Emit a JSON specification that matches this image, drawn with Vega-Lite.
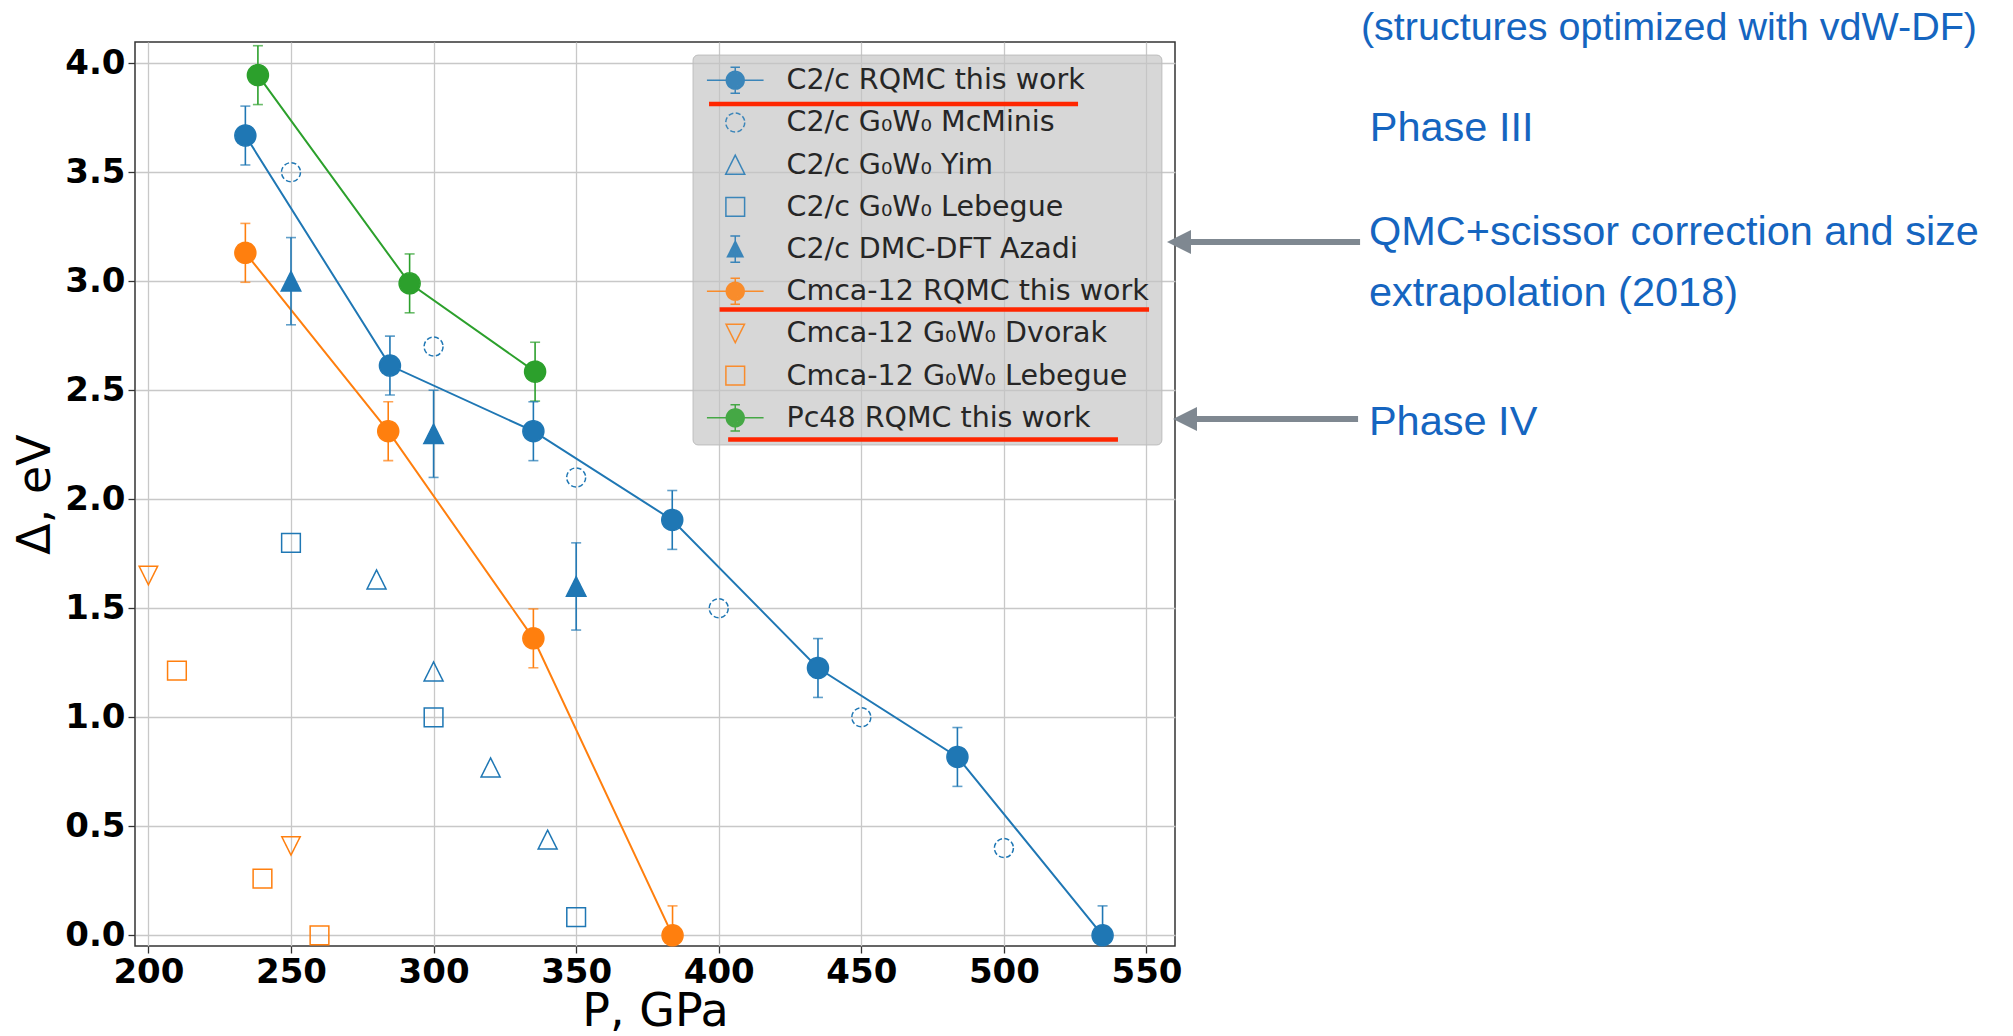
{
  "$schema": "https://vega.github.io/schema/vega-lite/v6.json",
  "width": 1040,
  "height": 904,
  "autosize": {"type": "none"},
  "padding": {"left": 135, "top": 42, "right": 838, "bottom": 90},
  "background": "#ffffff",
  "datasets": {
    "pts": [
      {"series": "C2/c RQMC this work", "structure": "C2/c", "method": "RQMC", "P": 234, "gap": 3.668, "err": 0.135},
      {"series": "C2/c RQMC this work", "structure": "C2/c", "method": "RQMC", "P": 284.7, "gap": 2.613, "err": 0.135},
      {"series": "C2/c RQMC this work", "structure": "C2/c", "method": "RQMC", "P": 335, "gap": 2.312, "err": 0.135},
      {"series": "C2/c RQMC this work", "structure": "C2/c", "method": "RQMC", "P": 383.7, "gap": 1.905, "err": 0.135},
      {"series": "C2/c RQMC this work", "structure": "C2/c", "method": "RQMC", "P": 434.8, "gap": 1.226, "err": 0.135},
      {"series": "C2/c RQMC this work", "structure": "C2/c", "method": "RQMC", "P": 483.7, "gap": 0.818, "err": 0.135},
      {"series": "C2/c RQMC this work", "structure": "C2/c", "method": "RQMC", "P": 534.6, "gap": 0.0, "err": 0.135},
      {"series": "C2/c G₀W₀ McMinis", "structure": "C2/c", "method": "G0W0", "P": 250, "gap": 3.5},
      {"series": "C2/c G₀W₀ McMinis", "structure": "C2/c", "method": "G0W0", "P": 300, "gap": 2.7},
      {"series": "C2/c G₀W₀ McMinis", "structure": "C2/c", "method": "G0W0", "P": 350, "gap": 2.1},
      {"series": "C2/c G₀W₀ McMinis", "structure": "C2/c", "method": "G0W0", "P": 400, "gap": 1.5},
      {"series": "C2/c G₀W₀ McMinis", "structure": "C2/c", "method": "G0W0", "P": 450, "gap": 1.0},
      {"series": "C2/c G₀W₀ McMinis", "structure": "C2/c", "method": "G0W0", "P": 500, "gap": 0.4},
      {"series": "C2/c G₀W₀ Yim", "structure": "C2/c", "method": "G0W0", "P": 280, "gap": 1.632},
      {"series": "C2/c G₀W₀ Yim", "structure": "C2/c", "method": "G0W0", "P": 300, "gap": 1.21},
      {"series": "C2/c G₀W₀ Yim", "structure": "C2/c", "method": "G0W0", "P": 320, "gap": 0.77},
      {"series": "C2/c G₀W₀ Yim", "structure": "C2/c", "method": "G0W0", "P": 340, "gap": 0.439},
      {"series": "C2/c G₀W₀ Lebegue", "structure": "C2/c", "method": "G0W0", "P": 250, "gap": 1.8},
      {"series": "C2/c G₀W₀ Lebegue", "structure": "C2/c", "method": "G0W0", "P": 300, "gap": 1.0},
      {"series": "C2/c G₀W₀ Lebegue", "structure": "C2/c", "method": "G0W0", "P": 350, "gap": 0.083},
      {"series": "C2/c DMC-DFT Azadi", "structure": "C2/c", "method": "DMC-DFT", "P": 250, "gap": 3.0, "err": 0.2},
      {"series": "C2/c DMC-DFT Azadi", "structure": "C2/c", "method": "DMC-DFT", "P": 300, "gap": 2.3, "err": 0.2},
      {"series": "C2/c DMC-DFT Azadi", "structure": "C2/c", "method": "DMC-DFT", "P": 350, "gap": 1.6, "err": 0.2},
      {"series": "Cmca-12 RQMC this work", "structure": "Cmca-12", "method": "RQMC", "P": 234, "gap": 3.13, "err": 0.135},
      {"series": "Cmca-12 RQMC this work", "structure": "Cmca-12", "method": "RQMC", "P": 284.1, "gap": 2.312, "err": 0.135},
      {"series": "Cmca-12 RQMC this work", "structure": "Cmca-12", "method": "RQMC", "P": 335, "gap": 1.362, "err": 0.135},
      {"series": "Cmca-12 RQMC this work", "structure": "Cmca-12", "method": "RQMC", "P": 383.8, "gap": 0.0, "err": 0.135},
      {"series": "Cmca-12 G₀W₀ Dvorak", "structure": "Cmca-12", "method": "G0W0", "P": 200, "gap": 1.65},
      {"series": "Cmca-12 G₀W₀ Dvorak", "structure": "Cmca-12", "method": "G0W0", "P": 250, "gap": 0.41},
      {"series": "Cmca-12 G₀W₀ Lebegue", "structure": "Cmca-12", "method": "G0W0", "P": 210, "gap": 1.214},
      {"series": "Cmca-12 G₀W₀ Lebegue", "structure": "Cmca-12", "method": "G0W0", "P": 240, "gap": 0.26},
      {"series": "Cmca-12 G₀W₀ Lebegue", "structure": "Cmca-12", "method": "G0W0", "P": 260, "gap": 0.0},
      {"series": "Pc48 RQMC this work", "structure": "Pc48", "method": "RQMC", "P": 238.4, "gap": 3.945, "err": 0.135},
      {"series": "Pc48 RQMC this work", "structure": "Pc48", "method": "RQMC", "P": 291.6, "gap": 2.99, "err": 0.135},
      {"series": "Pc48 RQMC this work", "structure": "Pc48", "method": "RQMC", "P": 335.6, "gap": 2.585, "err": 0.135}
    ],
    "legendbox": [
      {"P": 391.0, "P2": 555.4, "gap": 4.037, "gap2": 2.249}
    ],
    "underlines": [
      {"row": "C2/c RQMC this work", "P": 396.6, "P2": 526.0, "gap": 3.813},
      {"row": "Cmca-12 RQMC this work", "P": 400.3, "P2": 550.9, "gap": 2.870},
      {"row": "Pc48 RQMC this work", "P": 403.3, "P2": 540.0, "gap": 2.274}
    ],
    "arrows": [
      {"target": "C2/c DMC-DFT Azadi", "P": 561.4, "P2": 624.9, "gap": 3.18},
      {"target": "Pc48 RQMC this work", "P": 563.5, "P2": 624.2, "gap": 2.368}
    ],
    "header": [
      {"note": "(structures optimized with vdW-DF)", "P": 625.2, "gap": 4.161}
    ],
    "notes": [
      {"note": "Phase III", "P": 628.3, "gap": 3.698},
      {"note": "QMC+scissor correction and size", "P": 628.0, "gap": 3.221},
      {"note": "extrapolation (2018)", "P": 628.0, "gap": 2.941},
      {"note": "Phase IV", "P": 628.0, "gap": 2.35}
    ]
  },
  "config": {
    "view": {"stroke": "#333333", "strokeWidth": 1.5},
    "axis": {
      "grid": true,
      "gridColor": "#c8c8c8",
      "gridWidth": 1.3,
      "domain": false,
      "tickColor": "#333333",
      "tickSize": 7,
      "tickWidth": 1.3,
      "labelFont": "DejaVu Sans",
      "labelFontSize": 34,
      "labelFontWeight": "bold",
      "labelColor": "#000000",
      "labelFlush": false,
      "labelOverlap": false,
      "titleFont": "DejaVu Sans",
      "titleFontSize": 46,
      "titleFontWeight": "normal",
      "titleColor": "#000000"
    }
  },
  "layer": [
    {
      "data": {"name": "legendbox"},
      "mark": {"type": "rect", "fill": "#c4c4c4", "fillOpacity": 0.68, "stroke": "#bdbdbd", "strokeWidth": 1, "cornerRadius": 5},
      "encoding": {
        "x": {"field": "P", "type": "quantitative", "title": "P, GPa", "scale": {"domain": [195.3, 560], "nice": false, "zero": false}},
        "x2": {"field": "P2"},
        "y": {"field": "gap", "type": "quantitative", "title": "Δ, eV", "scale": {"domain": [-0.049, 4.097], "nice": false, "zero": false}},
        "y2": {"field": "gap2"}
      }
    },
    {
      "data": {"name": "pts"},
      "transform": [{"filter": "datum.method === 'RQMC'"}],
      "mark": {"type": "line", "strokeWidth": 2},
      "encoding": {
        "x": {"field": "P", "type": "quantitative", "title": "P, GPa", "scale": {"domain": [195.3, 560], "nice": false, "zero": false}},
        "y": {"field": "gap", "type": "quantitative", "title": "Δ, eV", "scale": {"domain": [-0.049, 4.097], "nice": false, "zero": false}},
        "color": {"field": "structure", "type": "nominal", "scale": {"domain": ["C2/c", "Cmca-12", "Pc48"], "range": ["#1f77b4", "#ff7f0e", "#2ca02c"]}, "legend": null}
      }
    },
    {
      "data": {"name": "pts"},
      "transform": [{"filter": "datum.err != null"}],
      "mark": {"type": "errorbar", "ticks": true, "size": 10, "thickness": 1.6, "clip": true},
      "encoding": {
        "x": {"field": "P", "type": "quantitative", "title": "P, GPa", "scale": {"domain": [195.3, 560], "nice": false, "zero": false}},
        "y": {"field": "gap", "type": "quantitative", "title": "Δ, eV", "scale": {"domain": [-0.049, 4.097], "nice": false, "zero": false}},
        "yError": {"field": "err"},
        "color": {"field": "structure", "type": "nominal", "scale": {"domain": ["C2/c", "Cmca-12", "Pc48"], "range": ["#1f77b4", "#ff7f0e", "#2ca02c"]}, "legend": null}
      }
    },
    {
      "data": {"name": "pts"},
      "encoding": {
        "x": {"field": "P", "type": "quantitative", "title": "P, GPa", "scale": {"domain": [195.3, 560], "nice": false, "zero": false},
              "axis": {"values": [200, 250, 300, 350, 400, 450, 500, 550], "format": "d", "labelPadding": 2, "titleY": 79, "titleBaseline": "alphabetic"}},
        "y": {"field": "gap", "type": "quantitative", "title": "Δ, eV", "scale": {"domain": [-0.049, 4.097], "nice": false, "zero": false},
              "axis": {"values": [0, 0.5, 1, 1.5, 2, 2.5, 3, 3.5, 4], "format": ".1f", "labelPadding": 3, "titleX": -86, "titleY": 452, "titleAngle": 270, "titleBaseline": "alphabetic", "titleAlign": "center"}},
        "fill": {
          "field": "series", "type": "nominal",
          "scale": {
            "domain": ["C2/c RQMC this work", "C2/c G₀W₀ McMinis", "C2/c G₀W₀ Yim", "C2/c G₀W₀ Lebegue", "C2/c DMC-DFT Azadi", "Cmca-12 RQMC this work", "Cmca-12 G₀W₀ Dvorak", "Cmca-12 G₀W₀ Lebegue", "Pc48 RQMC this work"],
            "range": ["#1f77b4", "transparent", "transparent", "transparent", "#1f77b4", "#ff7f0e", "transparent", "transparent", "#2ca02c"]
          },
          "legend": {"title": null}
        },
        "stroke": {
          "field": "series", "type": "nominal",
          "scale": {
            "domain": ["C2/c RQMC this work", "C2/c G₀W₀ McMinis", "C2/c G₀W₀ Yim", "C2/c G₀W₀ Lebegue", "C2/c DMC-DFT Azadi", "Cmca-12 RQMC this work", "Cmca-12 G₀W₀ Dvorak", "Cmca-12 G₀W₀ Lebegue", "Pc48 RQMC this work"],
            "range": ["#1f77b4", "#1f77b4", "#1f77b4", "#1f77b4", "#1f77b4", "#ff7f0e", "#ff7f0e", "#ff7f0e", "#2ca02c"]
          },
          "legend": {"title": null}
        },
        "strokeDash": {
          "field": "series", "type": "nominal",
          "scale": {
            "domain": ["C2/c RQMC this work", "C2/c G₀W₀ McMinis", "C2/c G₀W₀ Yim", "C2/c G₀W₀ Lebegue", "C2/c DMC-DFT Azadi", "Cmca-12 RQMC this work", "Cmca-12 G₀W₀ Dvorak", "Cmca-12 G₀W₀ Lebegue", "Pc48 RQMC this work"],
            "range": [[1, 0], [5, 2.5], [1, 0], [1, 0], [1, 0], [1, 0], [1, 0], [1, 0], [1, 0]]
          },
          "legend": {"title": null}
        },
        "size": {
          "field": "series", "type": "nominal",
          "scale": {
            "type": "ordinal",
            "domain": ["C2/c RQMC this work", "C2/c G₀W₀ McMinis", "C2/c G₀W₀ Yim", "C2/c G₀W₀ Lebegue", "C2/c DMC-DFT Azadi", "Cmca-12 RQMC this work", "Cmca-12 G₀W₀ Dvorak", "Cmca-12 G₀W₀ Lebegue", "Pc48 RQMC this work"],
            "range": [440, 361, 361, 350, 380, 440, 340, 350, 440]
          },
          "legend": {"title": null}
        }
      },
      "layer": [
        {
          "mark": {"type": "point", "opacity": 0},
          "encoding": {
            "shape": {
              "field": "series", "type": "nominal",
              "scale": {
                "domain": ["C2/c RQMC this work", "C2/c G₀W₀ McMinis", "C2/c G₀W₀ Yim", "C2/c G₀W₀ Lebegue", "C2/c DMC-DFT Azadi", "Cmca-12 RQMC this work", "Cmca-12 G₀W₀ Dvorak", "Cmca-12 G₀W₀ Lebegue", "Pc48 RQMC this work"],
                "range": [
                  "M-2.7,0L2.7,0M0,-1.25L0,1.25M-0.45,-1.25L0.45,-1.25M-0.45,1.25L0.45,1.25M0.85,0A0.85,0.85,0,1,1,-0.85,0A0.85,0.85,0,1,1,0.85,0ZM0.72,0A0.72,0.72,0,1,1,-0.72,0A0.72,0.72,0,1,1,0.72,0ZM0.59,0A0.59,0.59,0,1,1,-0.59,0A0.59,0.59,0,1,1,0.59,0ZM0.46,0A0.46,0.46,0,1,1,-0.46,0A0.46,0.46,0,1,1,0.46,0ZM0.33,0A0.33,0.33,0,1,1,-0.33,0A0.33,0.33,0,1,1,0.33,0ZM0.2,0A0.2,0.2,0,1,1,-0.2,0A0.2,0.2,0,1,1,0.2,0ZM0.08,0A0.08,0.08,0,1,1,-0.08,0A0.08,0.08,0,1,1,0.08,0Z",
                  "circle",
                  "M0,-1L-1,1L1,1Z",
                  "square",
                  "M0,-0.8L-0.8,0.8L0.8,0.8ZM-0.075,-0.65L0.075,-0.65M-0.145,-0.51L0.145,-0.51M-0.215,-0.37L0.215,-0.37M-0.285,-0.23L0.285,-0.23M-0.355,-0.09L0.355,-0.09M-0.425,0.05L0.425,0.05M-0.495,0.19L0.495,0.19M-0.565,0.33L0.565,0.33M-0.635,0.47L0.635,0.47M-0.705,0.61L0.705,0.61M-0.775,0.75L0.775,0.75M0,-1.35L0,1.35M-0.5,-1.35L0.5,-1.35M-0.5,1.35L0.5,1.35",
                  "M-2.7,0L2.7,0M0,-1.25L0,1.25M-0.45,-1.25L0.45,-1.25M-0.45,1.25L0.45,1.25M0.85,0A0.85,0.85,0,1,1,-0.85,0A0.85,0.85,0,1,1,0.85,0ZM0.72,0A0.72,0.72,0,1,1,-0.72,0A0.72,0.72,0,1,1,0.72,0ZM0.59,0A0.59,0.59,0,1,1,-0.59,0A0.59,0.59,0,1,1,0.59,0ZM0.46,0A0.46,0.46,0,1,1,-0.46,0A0.46,0.46,0,1,1,0.46,0ZM0.33,0A0.33,0.33,0,1,1,-0.33,0A0.33,0.33,0,1,1,0.33,0ZM0.2,0A0.2,0.2,0,1,1,-0.2,0A0.2,0.2,0,1,1,0.2,0ZM0.08,0A0.08,0.08,0,1,1,-0.08,0A0.08,0.08,0,1,1,0.08,0Z",
                  "M0,1L-1,-1L1,-1Z",
                  "square",
                  "M-2.7,0L2.7,0M0,-1.25L0,1.25M-0.45,-1.25L0.45,-1.25M-0.45,1.25L0.45,1.25M0.85,0A0.85,0.85,0,1,1,-0.85,0A0.85,0.85,0,1,1,0.85,0ZM0.72,0A0.72,0.72,0,1,1,-0.72,0A0.72,0.72,0,1,1,0.72,0ZM0.59,0A0.59,0.59,0,1,1,-0.59,0A0.59,0.59,0,1,1,0.59,0ZM0.46,0A0.46,0.46,0,1,1,-0.46,0A0.46,0.46,0,1,1,0.46,0ZM0.33,0A0.33,0.33,0,1,1,-0.33,0A0.33,0.33,0,1,1,0.33,0ZM0.2,0A0.2,0.2,0,1,1,-0.2,0A0.2,0.2,0,1,1,0.2,0ZM0.08,0A0.08,0.08,0,1,1,-0.08,0A0.08,0.08,0,1,1,0.08,0Z"
                ]
              },
              "legend": {
                "title": null,
                "orient": "none",
                "legendX": 558,
                "legendY": 12,
                "padding": 12,
                "gridAlign": "all",
                "rowPadding": 9.2,
                "labelFont": "DejaVu Sans",
                "labelFontSize": 28.5,
                "labelColor": "#262626",
                "labelLimit": 1000,
                "labelOffset": 37,
                "symbolOffset": 16,
                "symbolOpacity": 0.85,
                "symbolStrokeWidth": 1.5
              }
            }
          }
        },
        {
          "transform": [{"filter": {"field": "series", "oneOf": ["C2/c RQMC this work", "C2/c G₀W₀ McMinis", "Cmca-12 RQMC this work", "Pc48 RQMC this work"]}}],
          "mark": {"type": "point", "shape": "circle", "opacity": 1, "strokeWidth": 1.5}
        },
        {
          "transform": [{"filter": {"field": "series", "oneOf": ["C2/c G₀W₀ Yim", "C2/c DMC-DFT Azadi"]}}],
          "mark": {"type": "point", "shape": "M0,-1L-1,1L1,1Z", "opacity": 1, "strokeWidth": 1.5}
        },
        {
          "transform": [{"filter": {"field": "series", "oneOf": ["C2/c G₀W₀ Lebegue", "Cmca-12 G₀W₀ Lebegue"]}}],
          "mark": {"type": "point", "shape": "square", "opacity": 1, "strokeWidth": 1.5}
        },
        {
          "transform": [{"filter": {"field": "series", "oneOf": ["Cmca-12 G₀W₀ Dvorak"]}}],
          "mark": {"type": "point", "shape": "M0,1L-1,-1L1,-1Z", "opacity": 1, "strokeWidth": 1.5}
        }
      ]
    },
    {
      "data": {"name": "underlines"},
      "mark": {"type": "rule", "color": "#ff2600", "strokeWidth": 4.5},
      "encoding": {
        "x": {"field": "P", "type": "quantitative", "title": "P, GPa", "scale": {"domain": [195.3, 560], "nice": false, "zero": false}},
        "x2": {"field": "P2"},
        "y": {"field": "gap", "type": "quantitative", "title": "Δ, eV", "scale": {"domain": [-0.049, 4.097], "nice": false, "zero": false}}
      }
    },
    {
      "data": {"name": "arrows"},
      "mark": {"type": "rule", "color": "#7f8891", "strokeWidth": 6},
      "encoding": {
        "x": {"field": "P", "type": "quantitative", "title": "P, GPa", "scale": {"domain": [195.3, 560], "nice": false, "zero": false}},
        "x2": {"field": "P2"},
        "y": {"field": "gap", "type": "quantitative", "title": "Δ, eV", "scale": {"domain": [-0.049, 4.097], "nice": false, "zero": false}}
      }
    },
    {
      "data": {"name": "arrows"},
      "mark": {"type": "point", "shape": "M-1,0L1,-1L1,1Z", "filled": true, "color": "#7f8891", "size": 576, "opacity": 1},
      "encoding": {
        "x": {"field": "P", "type": "quantitative", "title": "P, GPa", "scale": {"domain": [195.3, 560], "nice": false, "zero": false}},
        "y": {"field": "gap", "type": "quantitative", "title": "Δ, eV", "scale": {"domain": [-0.049, 4.097], "nice": false, "zero": false}}
      }
    },
    {
      "data": {"name": "header"},
      "mark": {"type": "text", "align": "left", "baseline": "middle", "font": "Liberation Sans", "fontSize": 39.5, "color": "#1565c0"},
      "encoding": {
        "x": {"field": "P", "type": "quantitative", "title": "P, GPa", "scale": {"domain": [195.3, 560], "nice": false, "zero": false}},
        "y": {"field": "gap", "type": "quantitative", "title": "Δ, eV", "scale": {"domain": [-0.049, 4.097], "nice": false, "zero": false}},
        "text": {"field": "note"}
      }
    },
    {
      "data": {"name": "notes"},
      "mark": {"type": "text", "align": "left", "baseline": "middle", "font": "Liberation Sans", "fontSize": 41.5, "color": "#1565c0"},
      "encoding": {
        "x": {"field": "P", "type": "quantitative", "title": "P, GPa", "scale": {"domain": [195.3, 560], "nice": false, "zero": false}},
        "y": {"field": "gap", "type": "quantitative", "title": "Δ, eV", "scale": {"domain": [-0.049, 4.097], "nice": false, "zero": false}},
        "text": {"field": "note"}
      }
    }
  ]
}
